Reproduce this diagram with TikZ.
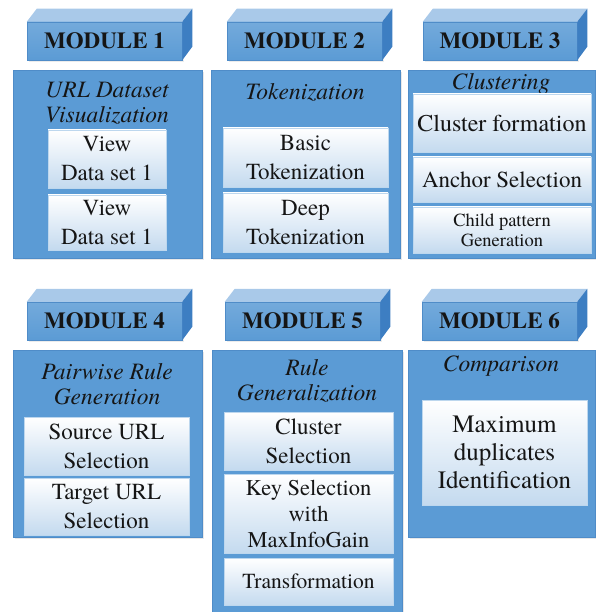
\documentclass[tikz,border=0pt]{standalone}
\usepackage{fontspec}
\setmainfont{texgyretermes}[Extension=.otf, UprightFont=*-regular, BoldFont=*-bold, ItalicFont=*-italic, BoldItalicFont=*-bolditalic]
\usetikzlibrary{shadows}
\definecolor{mblue}{HTML}{5B9BD5}
\definecolor{bdr}{HTML}{4F8CC8}
\definecolor{topc}{HTML}{A9C9E9}
\definecolor{sidec}{HTML}{3D7EC2}
\definecolor{ibot}{HTML}{C4DAEF}
\definecolor{txt}{HTML}{151515}
\newcommand\hfont{\fontsize{23}{28}\selectfont\bfseries}
\newcommand\tfont{\fontsize{23.5}{25}\selectfont\itshape}
\newcommand\ifont{\fontsize{23}{29}\selectfont}
\newcommand\mybox[7]{%
  \pgfmathsetmacro\mbCX{(#2+#4)/2}\pgfmathsetmacro\mbCY{(#3+#5)/2}%
  \pgfmathsetmacro\mbW{#4-#2}\pgfmathsetmacro\mbH{#5-#3}%
  \node[#6, minimum width=\mbW pt, minimum height=\mbH pt, inner sep=0pt] (#1) at (\mbCX,\mbCY) {#7};}
\newcommand\mycube[1]{%
  \fill[topc] (#1.north west) -- ++(10,-13) -- ([shift={(10,-13)}]#1.north east) -- (#1.north east) -- cycle;
  \fill[sidec] (#1.north east) -- ++(10,-13) -- ++(0,38) -- (#1.south east) -- cycle;}
\tikzset{
  body/.style={draw=bdr, fill=mblue, line width=0.6pt, drop shadow={shadow xshift=1.5pt, shadow yshift=-2pt, opacity=0.18}},
  hdr/.style={draw=bdr, top color=mblue!85!white, bottom color=mblue, line width=0.5pt, font=\hfont, text=txt, drop shadow={shadow xshift=1.5pt, shadow yshift=-2pt, opacity=0.15}},
  inner/.style={draw=white!60!mblue, top color=white, bottom color=ibot, line width=0.5pt, align=center, font=\ifont, text=txt},
  ttl/.style={align=center, font=\tfont, text=txt, inner sep=0pt}
}
\begin{document}
\begin{tikzpicture}[x=1pt,y=-1pt]
\useasboundingbox (0,0) rectangle (595,612);
% ---------- Module 1
\mybox{h1}{27}{22}{182}{60}{hdr}{MODULE 1}
\mycube{h1}
\mybox{b1}{13}{70}{202}{258}{body}{}
\node[ttl] (t1) at (107,103) {URL Dataset\\Visualization};
\mybox{i11}{48}{130}{166}{188}{inner}{View\\Data set 1}
\mybox{i12}{48}{195}{166}{250}{inner}{View\\Data set 1}
% ---------- Module 2
\mybox{h2}{227}{22}{382}{60}{hdr}{MODULE 2}
\mycube{h2}
\mybox{b2}{211}{70}{400}{258}{body}{}
\node[ttl] (t2) at (305,92) {Tokenization};
\mybox{i21}{223}{128}{388}{187}{inner}{Basic\\Tokenization}
\mybox{i22}{223}{193}{388}{252}{inner}{Deep\\Tokenization}
% ---------- Module 3
\mybox{h3}{423}{22}{577}{60}{hdr}{MODULE 3}
\mycube{h3}
\mybox{b3}{408}{70}{595}{258}{body}{}
\node[ttl] (t3) at (501,84) {Clustering};
\mybox{i31}{413}{94}{591}{152}{inner,font=\fontsize{24}{29}\selectfont}{Cluster formation}
\mybox{i32}{413}{157}{591}{202}{inner}{Anchor Selection}
\mybox{i33}{413}{207}{591}{253}{inner,font=\fontsize{18.5}{20}\selectfont}{Child pattern\\Generation}
% ---------- Module 4
\mybox{h4}{27}{302}{182}{340}{hdr}{MODULE 4}
\mycube{h4}
\mybox{b4}{13}{350}{202}{537}{body}{}
\node[ttl] (t4) at (107,384) {Pairwise Rule\\Generation};
\mybox{i41}{24}{417}{189}{475}{inner}{Source URL\\Selection}
\mybox{i42}{24}{478}{189}{535}{inner}{Target URL\\Selection}
% ---------- Module 5
\mybox{h5}{225}{302}{380}{340}{hdr}{MODULE 5}
\mycube{h5}
\mybox{b5}{212}{350}{402}{612}{body}{}
\node[ttl] (t5) at (307,381) {Rule\\Generalization};
\mybox{i51}{224}{412}{393}{470}{inner}{Cluster\\Selection}
\mybox{i52}{224}{474}{393}{553}{inner,font=\fontsize{22.5}{26}\selectfont}{Key Selection\\with\\MaxInfoGain}
\mybox{i53}{224}{558}{393}{605}{inner,font=\fontsize{21.5}{26}\selectfont}{Transformation}
% ---------- Module 6
\mybox{h6}{422}{302}{577}{340}{hdr}{MODULE 6}
\mycube{h6}
\mybox{b6}{408}{350}{595}{537}{body}{}
\node[ttl] (t6) at (501,366) {Comparison};
\mybox{i61}{422}{400}{587}{505}{inner,font=\fontsize{25}{28}\selectfont}{Maximum\\duplicates\\Identification}
\end{tikzpicture}
\end{document}
